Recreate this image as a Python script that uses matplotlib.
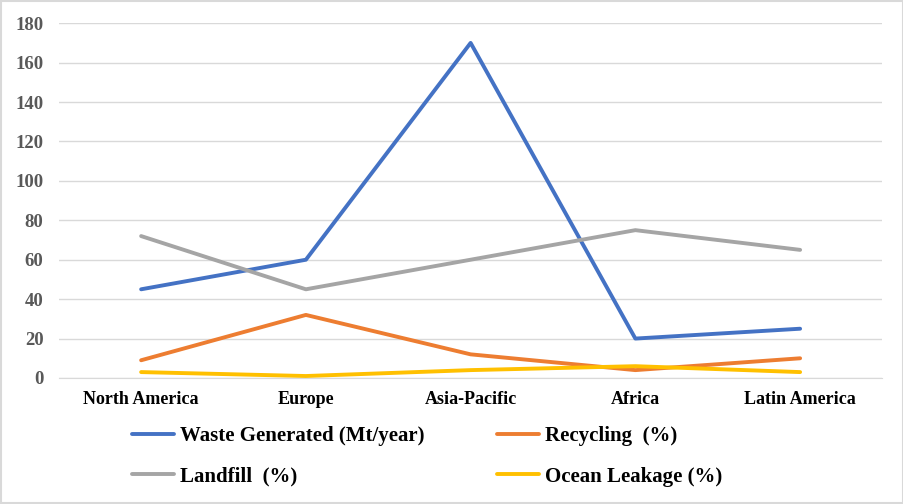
import matplotlib.pyplot as plt
from matplotlib.patches import Rectangle

regions = ["North America", "Europe", "Asia-Pacific", "Africa", "Latin America"]
waste = [45, 60, 170, 20, 25]
recycling = [9, 32, 12, 4, 10]
landfill = [72, 45, 60, 75, 65]
ocean = [3, 1, 4, 6, 3]

series = [
    ("Waste Generated (Mt/year)", waste, "#4472C4"),
    ("Recycling  (%)", recycling, "#ED7D31"),
    ("Landfill  (%)", landfill, "#A5A5A5"),
    ("Ocean Leakage (%)", ocean, "#FFC000"),
]

plt.rcParams['font.family'] = ['Liberation Serif', 'DejaVu Serif']

fig = plt.figure(figsize=(9.04, 5.04), dpi=100)
ax = fig.add_axes([0.0650, 0.25, 0.9112, 0.704])

x = range(len(regions))
lines = []
for name, vals, col in series:
    ln, = ax.plot(x, vals, color=col, lw=2.8, label=name, solid_capstyle='round')
    lines.append(ln)

ax.set_xlim(-0.5, len(regions) - 0.5)
ax.set_ylim(0, 180)
ax.set_yticks(range(0, 181, 20))
ax.set_xticks(list(x))
ax.set_xticklabels(regions, fontsize=13, fontweight='bold')
ax.tick_params(axis='y', labelsize=13.5, colors='#595959', length=0, pad=11)
ax.tick_params(axis='x', length=0, pad=9)
for lbl in ax.get_yticklabels():
    lbl.set_fontweight('bold')
ax.grid(axis='y', color='#D9D9D9', lw=1)
ax.set_axisbelow(True)
for s in ['top', 'right', 'left']:
    ax.spines[s].set_visible(False)
ax.spines['bottom'].set_color('#D9D9D9')

# legend fills column-wise, so reorder to get Excel's row order
order = [0, 2, 1, 3]
leg = fig.legend([lines[i] for i in order], [series[i][0] for i in order],
                 loc='upper left', bbox_to_anchor=(0.146, 0.155), ncol=2,
                 frameon=False, prop={'size': 15, 'weight': 'bold'},
                 handlelength=2.0, handletextpad=0.3, columnspacing=3.5,
                 labelspacing=1.0, borderaxespad=0, borderpad=0)

fig.patches.append(Rectangle((0.001, 0.002), 0.998, 0.996, transform=fig.transFigure,
                             fill=False, edgecolor='#D9D9D9', lw=1.5))

fig.savefig("out.png", dpi=100, facecolor='white')
